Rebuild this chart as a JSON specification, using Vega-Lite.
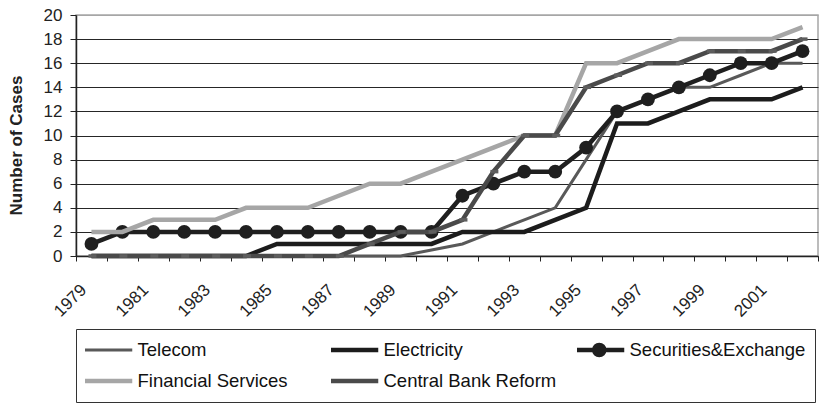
{
  "$schema": "https://vega.github.io/schema/vega-lite/v6.json",
  "width": 742,
  "height": 241,
  "autosize": {"type": "none"},
  "padding": {"left": 76, "top": 15, "right": 1, "bottom": 148},
  "background": "white",
  "config": {
    "font": "Liberation Sans, Arial, sans-serif",
    "view": {"stroke": "#a6a6a6", "strokeWidth": 1.5}
  },
  "data": {"values": [
    {"year":1979,"series":"Telecom","cases":0},{"year":1980,"series":"Telecom","cases":0},{"year":1981,"series":"Telecom","cases":0},{"year":1982,"series":"Telecom","cases":0},{"year":1983,"series":"Telecom","cases":0},{"year":1984,"series":"Telecom","cases":0},{"year":1985,"series":"Telecom","cases":0},{"year":1986,"series":"Telecom","cases":0},{"year":1987,"series":"Telecom","cases":0},{"year":1988,"series":"Telecom","cases":0},{"year":1989,"series":"Telecom","cases":0},{"year":1990,"series":"Telecom","cases":0.5},{"year":1991,"series":"Telecom","cases":1},{"year":1992,"series":"Telecom","cases":2},{"year":1993,"series":"Telecom","cases":3},{"year":1994,"series":"Telecom","cases":4},{"year":1995,"series":"Telecom","cases":8},{"year":1996,"series":"Telecom","cases":12},{"year":1997,"series":"Telecom","cases":13},{"year":1998,"series":"Telecom","cases":14},{"year":1999,"series":"Telecom","cases":14},{"year":2000,"series":"Telecom","cases":15},{"year":2001,"series":"Telecom","cases":16},{"year":2002,"series":"Telecom","cases":16},
    {"year":1979,"series":"Electricity","cases":0},{"year":1980,"series":"Electricity","cases":0},{"year":1981,"series":"Electricity","cases":0},{"year":1982,"series":"Electricity","cases":0},{"year":1983,"series":"Electricity","cases":0},{"year":1984,"series":"Electricity","cases":0},{"year":1985,"series":"Electricity","cases":1},{"year":1986,"series":"Electricity","cases":1},{"year":1987,"series":"Electricity","cases":1},{"year":1988,"series":"Electricity","cases":1},{"year":1989,"series":"Electricity","cases":1},{"year":1990,"series":"Electricity","cases":1},{"year":1991,"series":"Electricity","cases":2},{"year":1992,"series":"Electricity","cases":2},{"year":1993,"series":"Electricity","cases":2},{"year":1994,"series":"Electricity","cases":3},{"year":1995,"series":"Electricity","cases":4},{"year":1996,"series":"Electricity","cases":11},{"year":1997,"series":"Electricity","cases":11},{"year":1998,"series":"Electricity","cases":12},{"year":1999,"series":"Electricity","cases":13},{"year":2000,"series":"Electricity","cases":13},{"year":2001,"series":"Electricity","cases":13},{"year":2002,"series":"Electricity","cases":14},
    {"year":1979,"series":"Securities&Exchange","cases":1},{"year":1980,"series":"Securities&Exchange","cases":2},{"year":1981,"series":"Securities&Exchange","cases":2},{"year":1982,"series":"Securities&Exchange","cases":2},{"year":1983,"series":"Securities&Exchange","cases":2},{"year":1984,"series":"Securities&Exchange","cases":2},{"year":1985,"series":"Securities&Exchange","cases":2},{"year":1986,"series":"Securities&Exchange","cases":2},{"year":1987,"series":"Securities&Exchange","cases":2},{"year":1988,"series":"Securities&Exchange","cases":2},{"year":1989,"series":"Securities&Exchange","cases":2},{"year":1990,"series":"Securities&Exchange","cases":2},{"year":1991,"series":"Securities&Exchange","cases":5},{"year":1992,"series":"Securities&Exchange","cases":6},{"year":1993,"series":"Securities&Exchange","cases":7},{"year":1994,"series":"Securities&Exchange","cases":7},{"year":1995,"series":"Securities&Exchange","cases":9},{"year":1996,"series":"Securities&Exchange","cases":12},{"year":1997,"series":"Securities&Exchange","cases":13},{"year":1998,"series":"Securities&Exchange","cases":14},{"year":1999,"series":"Securities&Exchange","cases":15},{"year":2000,"series":"Securities&Exchange","cases":16},{"year":2001,"series":"Securities&Exchange","cases":16},{"year":2002,"series":"Securities&Exchange","cases":17},
    {"year":1979,"series":"Financial Services","cases":2},{"year":1980,"series":"Financial Services","cases":2},{"year":1981,"series":"Financial Services","cases":3},{"year":1982,"series":"Financial Services","cases":3},{"year":1983,"series":"Financial Services","cases":3},{"year":1984,"series":"Financial Services","cases":4},{"year":1985,"series":"Financial Services","cases":4},{"year":1986,"series":"Financial Services","cases":4},{"year":1987,"series":"Financial Services","cases":5},{"year":1988,"series":"Financial Services","cases":6},{"year":1989,"series":"Financial Services","cases":6},{"year":1990,"series":"Financial Services","cases":7},{"year":1991,"series":"Financial Services","cases":8},{"year":1992,"series":"Financial Services","cases":9},{"year":1993,"series":"Financial Services","cases":10},{"year":1994,"series":"Financial Services","cases":10},{"year":1995,"series":"Financial Services","cases":16},{"year":1996,"series":"Financial Services","cases":16},{"year":1997,"series":"Financial Services","cases":17},{"year":1998,"series":"Financial Services","cases":18},{"year":1999,"series":"Financial Services","cases":18},{"year":2000,"series":"Financial Services","cases":18},{"year":2001,"series":"Financial Services","cases":18},{"year":2002,"series":"Financial Services","cases":19},
    {"year":1979,"series":"Central Bank Reform","cases":0},{"year":1980,"series":"Central Bank Reform","cases":0},{"year":1981,"series":"Central Bank Reform","cases":0},{"year":1982,"series":"Central Bank Reform","cases":0},{"year":1983,"series":"Central Bank Reform","cases":0},{"year":1984,"series":"Central Bank Reform","cases":0},{"year":1985,"series":"Central Bank Reform","cases":0},{"year":1986,"series":"Central Bank Reform","cases":0},{"year":1987,"series":"Central Bank Reform","cases":0},{"year":1988,"series":"Central Bank Reform","cases":1},{"year":1989,"series":"Central Bank Reform","cases":2},{"year":1990,"series":"Central Bank Reform","cases":2},{"year":1991,"series":"Central Bank Reform","cases":3},{"year":1992,"series":"Central Bank Reform","cases":7},{"year":1993,"series":"Central Bank Reform","cases":10},{"year":1994,"series":"Central Bank Reform","cases":10},{"year":1995,"series":"Central Bank Reform","cases":14},{"year":1996,"series":"Central Bank Reform","cases":15},{"year":1997,"series":"Central Bank Reform","cases":16},{"year":1998,"series":"Central Bank Reform","cases":16},{"year":1999,"series":"Central Bank Reform","cases":17},{"year":2000,"series":"Central Bank Reform","cases":17},{"year":2001,"series":"Central Bank Reform","cases":17},{"year":2002,"series":"Central Bank Reform","cases":18}
  ]},
  "encoding": {
    "x": {
      "field": "year", "type": "ordinal", "bandPosition": 0.5,
      "scale": {"type": "band", "paddingInner": 0, "paddingOuter": 0},
      "axis": {
        "title": null, "tickBand": "extent", "labelAngle": -45, "labelAlign": "right", "labelBaseline": "middle",
        "labelFontSize": 17, "labelColor": "#222222", "labelPadding": 26, "labelOffset": -8,
        "tickSize": 5, "tickColor": "#222222", "tickWidth": 1, "domainColor": "#222222", "domainWidth": 1.5,
        "labelExpr": "datum.value % 2 == 1 ? datum.label : ''", "labelOverlap": false, "grid": false
      }
    },
    "y": {
      "field": "cases", "type": "quantitative",
      "scale": {"domain": [0, 20], "nice": false},
      "axis": {
        "values": [0, 2, 4, 6, 8, 10, 12, 14, 16, 18, 20],
        "title": "Number of Cases", "titleFontSize": 17, "titleFontWeight": "bold", "titleColor": "#222222",
        "titleX": -55, "titleY": 130, "titleAlign": "center", "titleBaseline": "alphabetic", "titleAngle": -90,
        "labelFontSize": 17, "labelColor": "#222222", "labelPadding": 8,
        "tickSize": 6, "tickColor": "#222222", "domainColor": "#222222", "domainWidth": 1.5,
        "grid": true, "gridWidth": 1,
        "gridColor": {"condition": {"test": "datum.value === 20", "value": "#a6a6a6"}, "value": "#262626"}
      }
    },
    "color": {
      "field": "series", "type": "nominal",
      "scale": {
        "domain": ["Telecom", "Electricity", "Securities&Exchange", "Financial Services", "Central Bank Reform"],
        "range": ["#595959", "#1c1c1c", "#1f1f1f", "#a6a6a6", "#4a4a4a"]
      },
      "legend": {
        "title": null, "orient": "none", "legendX": 0, "legendY": 314,
        "direction": "horizontal", "columns": 3, "gridAlign": "all",
        "symbolType": "stroke", "symbolSize": 2500, "symbolStrokeWidth": 4.5, "clipHeight": 24,
        "symbolOffset": 13,
        "labelFontSize": 18.5, "labelColor": "#111111", "labelOffset": 21, "labelLimit": 400,
        "columnPadding": 17, "rowPadding": 7, "padding": 9,
        "strokeColor": "#333333",
        "encode": {
          "symbols": {
            "update": {
              "shape": {"signal": "datum.value === 'Securities&Exchange' ? 'M-1,0H1M-0.2,0A0.2,0.2,0,1,0,0.2,0A0.2,0.2,0,1,0,-0.2,0Z' : 'stroke'"},
              "fill": {"signal": "datum.value === 'Securities&Exchange' ? '#1f1f1f' : 'transparent'"},
              "strokeWidth": {"signal": "datum.value === 'Telecom' ? 3 : 4.5"}
            }
          }
        }
      }
    }
  },
  "layer": [
    {
      "transform": [{"filter": "datum.series === 'Telecom'"}],
      "mark": {"type": "line", "strokeWidth": 3}
    },
    {
      "transform": [{"filter": "datum.series === 'Electricity' || datum.series === 'Securities&Exchange'"}],
      "mark": {"type": "line", "strokeWidth": 4.5}
    },
    {
      "transform": [{"filter": "datum.series === 'Securities&Exchange'"}],
      "mark": {"type": "point", "filled": true, "size": 190, "opacity": 1, "shape": "circle"},
      "encoding": {"color": {"value": "#1f1f1f"}}
    },
    {
      "transform": [{"filter": "datum.series === 'Financial Services' || datum.series === 'Central Bank Reform'"}],
      "mark": {"type": "line", "strokeWidth": 4.5}
    },
    {
      "transform": [{"filter": "datum.series === 'Central Bank Reform'"}],
      "mark": {"type": "point", "filled": true, "size": 100, "opacity": 1, "shape": "M-0.6,-0.35H1V0.35H-0.6Z"},
      "encoding": {"color": {"value": "#5e5e5e"}}
    }
  ]
}
